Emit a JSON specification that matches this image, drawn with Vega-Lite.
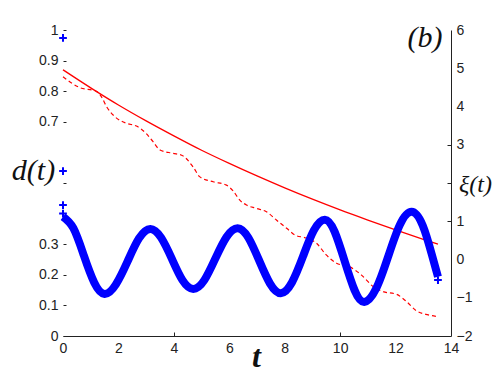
{
  "$schema": "https://vega.github.io/schema/vega-lite/v6.json",
  "width": 388,
  "height": 306,
  "autosize": "none",
  "padding": {"left": 63, "top": 30, "right": 49, "bottom": 39},
  "background": "white",
  "config": {
    "view": {"stroke": null},
    "axis": {"grid": false, "labelFont": "Liberation Sans", "labelFontSize": 14, "labelColor": "#222", "domainColor": "#222", "tickColor": "#222"}
  },
  "datasets": {
    "red": [
      {"t": 0, "d": 0.87, "series": "solid"}, {"t": 1, "d": 0.811, "series": "solid"}, {"t": 2, "d": 0.755, "series": "solid"},
      {"t": 3, "d": 0.703, "series": "solid"}, {"t": 4, "d": 0.654, "series": "solid"}, {"t": 5, "d": 0.607, "series": "solid"},
      {"t": 6, "d": 0.564, "series": "solid"}, {"t": 7, "d": 0.523, "series": "solid"}, {"t": 8, "d": 0.484, "series": "solid"},
      {"t": 9, "d": 0.447, "series": "solid"}, {"t": 10, "d": 0.412, "series": "solid"}, {"t": 11, "d": 0.379, "series": "solid"},
      {"t": 12, "d": 0.347, "series": "solid"}, {"t": 13, "d": 0.316, "series": "solid"}, {"t": 13.53, "d": 0.3, "series": "solid"},
      {"t": 0, "d": 0.847, "series": "dashed"}, {"t": 0.6, "d": 0.812, "series": "dashed"}, {"t": 1.2, "d": 0.8, "series": "dashed"},
      {"t": 1.4, "d": 0.78, "series": "dashed"}, {"t": 1.57, "d": 0.75, "series": "dashed"}, {"t": 1.87, "d": 0.717, "series": "dashed"},
      {"t": 2.29, "d": 0.695, "series": "dashed"}, {"t": 2.65, "d": 0.686, "series": "dashed"}, {"t": 3.0, "d": 0.662, "series": "dashed"},
      {"t": 3.25, "d": 0.635, "series": "dashed"}, {"t": 3.5, "d": 0.608, "series": "dashed"}, {"t": 3.97, "d": 0.597, "series": "dashed"},
      {"t": 4.3, "d": 0.59, "series": "dashed"}, {"t": 4.69, "d": 0.553, "series": "dashed"}, {"t": 4.94, "d": 0.52, "series": "dashed"},
      {"t": 5.42, "d": 0.504, "series": "dashed"}, {"t": 5.9, "d": 0.493, "series": "dashed"}, {"t": 6.13, "d": 0.475, "series": "dashed"},
      {"t": 6.38, "d": 0.444, "series": "dashed"}, {"t": 6.62, "d": 0.428, "series": "dashed"}, {"t": 6.98, "d": 0.417, "series": "dashed"},
      {"t": 7.34, "d": 0.406, "series": "dashed"}, {"t": 7.7, "d": 0.379, "series": "dashed"}, {"t": 8.07, "d": 0.352, "series": "dashed"},
      {"t": 8.37, "d": 0.33, "series": "dashed"}, {"t": 8.73, "d": 0.321, "series": "dashed"}, {"t": 9.15, "d": 0.303, "series": "dashed"},
      {"t": 9.5, "d": 0.265, "series": "dashed"}, {"t": 9.87, "d": 0.238, "series": "dashed"}, {"t": 10.35, "d": 0.226, "series": "dashed"},
      {"t": 10.77, "d": 0.199, "series": "dashed"}, {"t": 11.2, "d": 0.161, "series": "dashed"}, {"t": 11.55, "d": 0.145, "series": "dashed"},
      {"t": 12.04, "d": 0.136, "series": "dashed"}, {"t": 12.4, "d": 0.112, "series": "dashed"}, {"t": 12.76, "d": 0.082, "series": "dashed"},
      {"t": 13.18, "d": 0.069, "series": "dashed"}, {"t": 13.54, "d": 0.063, "series": "dashed"}
    ],
    "markers": [
      {"t": 0, "d": 0.974}, {"t": 0, "d": 0.539}, {"t": 0, "d": 0.428}, {"t": 0, "d": 0.4}, {"t": 13.53, "d": 0.183}
    ],
    "xi": [
      {"t": 0, "xi": 1.12}, {"t": 0.375, "xi": 0.82}, {"t": 0.75, "xi": 0.11}, {"t": 1.125, "xi": -0.6}, {"t": 1.5, "xi": -0.9},
      {"t": 1.91, "xi": -0.65}, {"t": 2.33, "xi": -0.05}, {"t": 2.74, "xi": 0.55}, {"t": 3.15, "xi": 0.8}, {"t": 3.54, "xi": 0.57},
      {"t": 3.93, "xi": 0.015}, {"t": 4.31, "xi": -0.54}, {"t": 4.7, "xi": -0.77}, {"t": 5.1, "xi": -0.54}, {"t": 5.5, "xi": 0.03},
      {"t": 5.9, "xi": 0.59}, {"t": 6.3, "xi": 0.82}, {"t": 6.69, "xi": 0.57}, {"t": 7.08, "xi": -0.03}, {"t": 7.47, "xi": -0.63},
      {"t": 7.86, "xi": -0.88}, {"t": 8.26, "xi": -0.6}, {"t": 8.66, "xi": 0.08}, {"t": 9.05, "xi": 0.76}, {"t": 9.45, "xi": 1.04},
      {"t": 9.8, "xi": 0.73}, {"t": 10.16, "xi": -0.035}, {"t": 10.52, "xi": -0.8}, {"t": 10.87, "xi": -1.11}, {"t": 11.3, "xi": -0.76},
      {"t": 11.73, "xi": 0.07}, {"t": 12.15, "xi": 0.9}, {"t": 12.58, "xi": 1.25}, {"t": 12.98, "xi": 0.89}, {"t": 13.3, "xi": 0.15},
      {"t": 13.53, "xi": -0.45}
    ],
    "label": [{"text": "(b)", "t": 13.06, "d": 0.974}]
  },
  "encoding": {
    "x": {"field": "t", "type": "quantitative", "scale": {"domain": [0, 14], "nice": false},
      "axis": {"values": [0, 2, 4, 6, 8, 10, 12, 14], "tickSize": -4, "labelPadding": 9, "labelFontSize": 14, "domain": true, "labelFlush": false,
        "tickOpacity": {"condition": {"test": "datum.value == 4 || datum.value == 10", "value": 1}, "value": 0},
        "title": "t", "titleFont": "Liberation Serif", "titleFontStyle": "italic", "titleFontWeight": "bold", "titleFontSize": 32,
        "titleColor": "#111", "titleX": 193, "titleY": 20, "titleAlign": "center", "titleBaseline": "middle", "titleAngle": 0}}
  },
  "layer": [
    {
      "data": {"name": "red"},
      "transform": [{"filter": "datum.series === 'solid'"}],
      "mark": {"type": "line", "color": "#ff0000", "strokeWidth": 1.3, "interpolate": "monotone"},
      "encoding": {
        "y": {"field": "d", "type": "quantitative", "scale": {"domain": [0, 1], "nice": false, "zero": false},
          "axis": {"orient": "left", "domain": false, "values": [0, 0.1, 0.2, 0.3, 0.5, 0.7, 0.8, 0.9, 1],
            "labelExpr": "datum.value == 0.5 ? '' : datum.label", "tickSize": -3, "labelPadding": 8, "labelFontSize": 14, "format": "~g",
            "title": "d(t)", "titleFont": "Liberation Serif", "titleFontStyle": "italic", "titleFontWeight": "normal", "titleFontSize": 30,
            "titleColor": "#111", "titleX": -30, "titleY": 140, "titleAlign": "center", "titleBaseline": "middle", "titleAngle": 0}}
      }
    },
    {
      "data": {"name": "red"},
      "transform": [{"filter": "datum.series === 'dashed'"}],
      "mark": {"type": "line", "color": "#ff0000", "strokeWidth": 1.2, "strokeDash": [4, 3], "interpolate": "monotone"},
      "encoding": {
        "y": {"field": "d", "type": "quantitative", "scale": {"domain": [0, 1], "nice": false, "zero": false}, "axis": null}
      }
    },
    {
      "data": {"name": "xi"},
      "mark": {"type": "line", "color": "#0000ff", "strokeWidth": 8, "interpolate": "natural"},
      "encoding": {
        "y": {"field": "xi", "type": "quantitative", "scale": {"domain": [-2, 6], "nice": false, "zero": false},
          "axis": {"orient": "right", "domain": true, "values": [-2, -1, 0, 1, 2, 3, 4, 5, 6], "tickSize": -4, "labelPadding": 9, "labelFontSize": 14,
            "labelExpr": "datum.value == 2 ? '' : datum.label",
            "tickOpacity": {"condition": {"test": "datum.value >= 1 && datum.value <= 3", "value": 1}, "value": 0},
            "title": "ξ(t)", "titleFont": "Liberation Serif", "titleFontStyle": "italic", "titleFontWeight": "normal", "titleFontSize": 24,
            "titleColor": "#111", "titleX": 24, "titleY": 154, "titleAlign": "center", "titleBaseline": "middle", "titleAngle": 0}}
      }
    },
    {
      "data": {"name": "markers"},
      "mark": {"type": "point", "shape": "M-1,0H1M0,-1V1", "size": 60, "strokeWidth": 2, "filled": false, "color": "#0000ff", "opacity": 1},
      "encoding": {
        "y": {"field": "d", "type": "quantitative", "scale": {"domain": [0, 1], "nice": false, "zero": false}, "axis": null}
      }
    },
    {
      "data": {"name": "label"},
      "mark": {"type": "text", "font": "Liberation Serif", "fontStyle": "italic", "fontSize": 30, "color": "#111", "align": "center", "baseline": "middle"},
      "encoding": {
        "text": {"field": "text"},
        "y": {"field": "d", "type": "quantitative", "scale": {"domain": [0, 1], "nice": false, "zero": false}, "axis": null}
      }
    }
  ],
  "resolve": {"scale": {"y": "independent"}}
}
